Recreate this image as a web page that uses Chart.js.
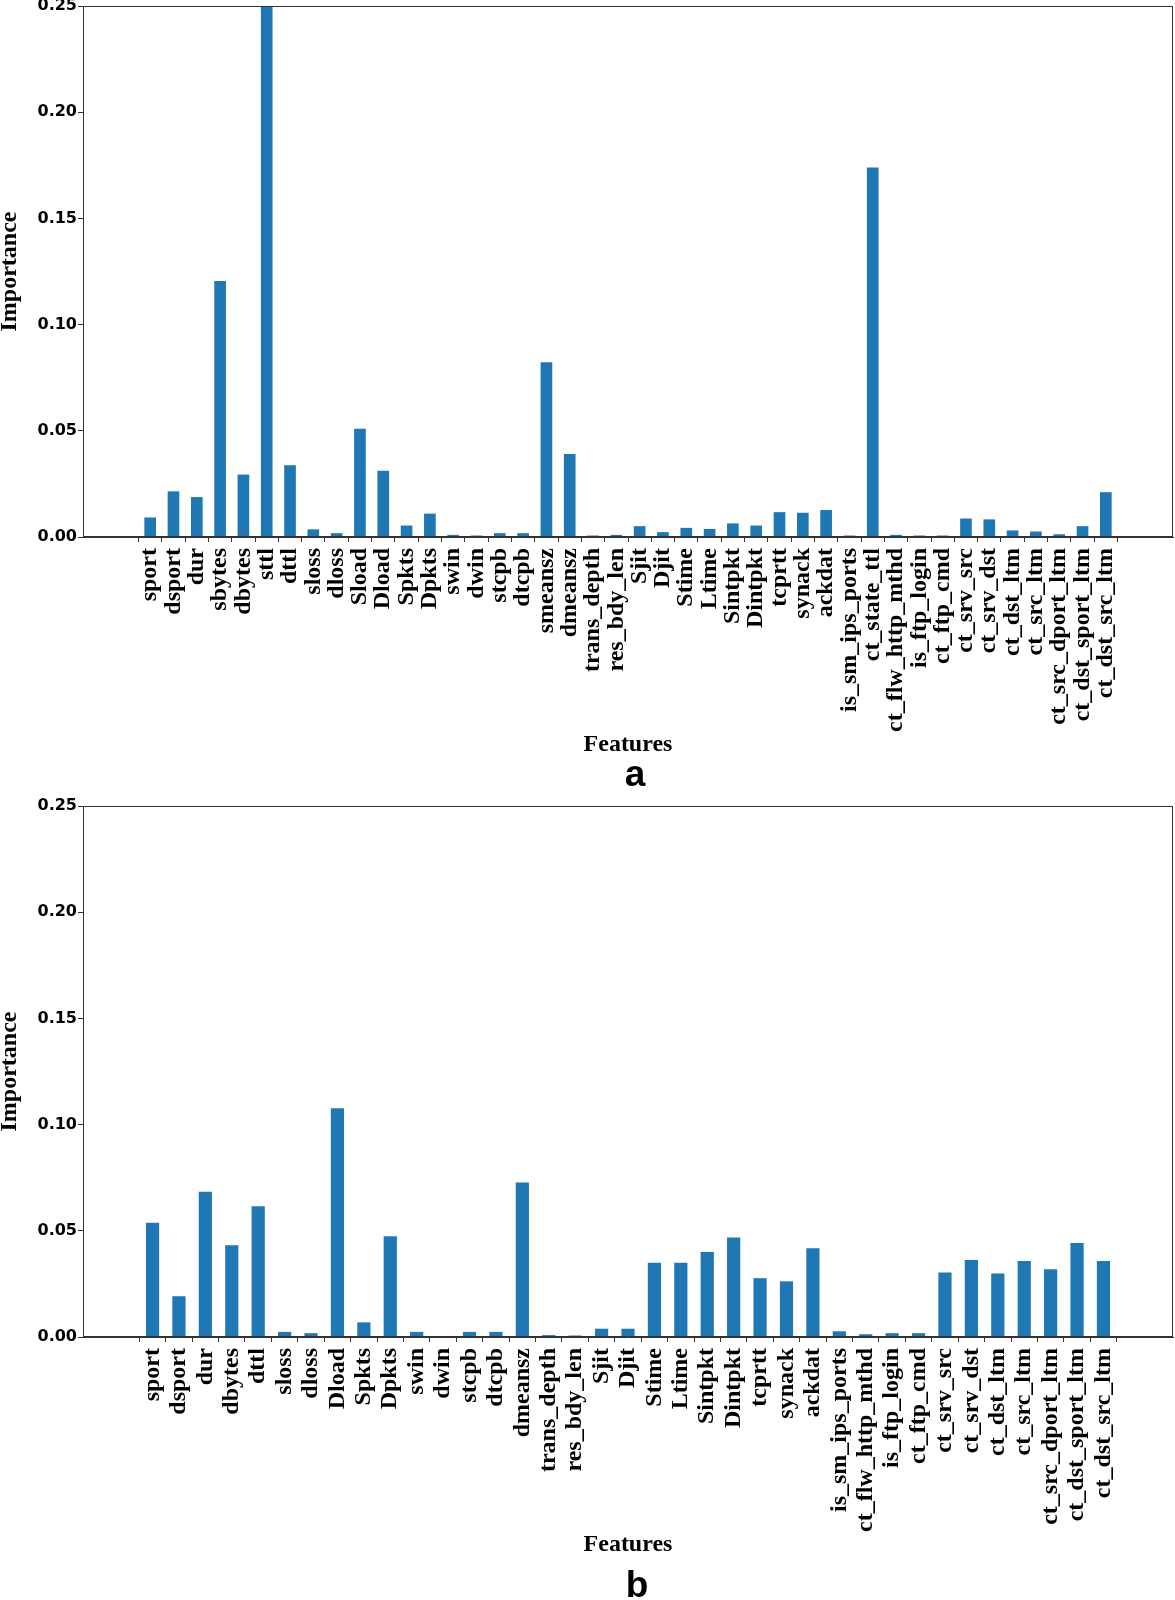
<!DOCTYPE html>
<html>
<head>
<meta charset="utf-8">
<script src="https://cdn.jsdelivr.net/npm/chart.js@4.4.0/dist/chart.umd.min.js"></script>
<style>
html, body { margin: 0; padding: 0; background: #fff; width: 1175px; height: 1600px; overflow: hidden; }
.wrap { position: absolute; left: 0; width: 1175px; }
.letter { position: absolute; font-family: "Liberation Sans", Arial, sans-serif; font-weight: bold; font-size: 37px; line-height: 37px; transform: translateX(-50%); color: #000; }
</style>
</head>
<body>
<div class="wrap" style="top:0px; height:800px"><canvas id="chartA"></canvas></div>
<div class="wrap" style="top:780px; height:820px"><canvas id="chartB"></canvas></div>
<div class="letter" style="left:635px; top:755px">a</div>
<div class="letter" style="left:637px; top:1566px">b</div>
<script>
// ---- data ----
const featuresA = ["sport","dsport","dur","sbytes","dbytes","sttl","dttl","sloss","dloss","Sload","Dload","Spkts","Dpkts","swin","dwin","stcpb","dtcpb","smeansz","dmeansz","trans_depth","res_bdy_len","Sjit","Djit","Stime","Ltime","Sintpkt","Dintpkt","tcprtt","synack","ackdat","is_sm_ips_ports","ct_state_ttl","ct_flw_http_mthd","is_ftp_login","ct_ftp_cmd","ct_srv_src","ct_srv_dst","ct_dst_ltm","ct_src_ltm","ct_src_dport_ltm","ct_dst_sport_ltm","ct_dst_src_ltm"];
const importanceA = [0.0092,0.0215,0.0188,0.1205,0.0294,0.25,0.0338,0.0036,0.0018,0.051,0.0312,0.0054,0.011,0.001,0.0007,0.0018,0.0018,0.0823,0.0391,0.0007,0.001,0.0051,0.0023,0.0043,0.0038,0.0064,0.0054,0.0117,0.0114,0.0127,0.0007,0.174,0.001,0.0007,0.0007,0.0087,0.0083,0.0031,0.0026,0.0013,0.0051,0.0211];

const featuresB = ["sport","dsport","dur","dbytes","dttl","sloss","dloss","Dload","Spkts","Dpkts","swin","dwin","stcpb","dtcpb","dmeansz","trans_depth","res_bdy_len","Sjit","Djit","Stime","Ltime","Sintpkt","Dintpkt","tcprtt","synack","ackdat","is_sm_ips_ports","ct_flw_http_mthd","is_ftp_login","ct_ftp_cmd","ct_srv_src","ct_srv_dst","ct_dst_ltm","ct_src_ltm","ct_src_dport_ltm","ct_dst_sport_ltm","ct_dst_src_ltm"];
const importanceB = [0.0538,0.0192,0.0684,0.0432,0.0615,0.0024,0.0018,0.1077,0.0069,0.0474,0.0024,0,0.0024,0.0024,0.0727,0.0009,0.0007,0.0039,0.0039,0.0349,0.0349,0.04,0.0469,0.0277,0.0262,0.0418,0.0027,0.0013,0.0018,0.0018,0.0304,0.0363,0.0299,0.0358,0.0319,0.0442,0.0358];

const yTicks = [0, 0.05, 0.10, 0.15, 0.20, 0.25];
const xTitle = "Features";
const yTitle = "Importance";

// ---- drawing ----
const framePlugin = {
  id: 'frame',
  afterDatasetsDraw(chart) {
    const { ctx, chartArea: a } = chart;
    ctx.save();
    ctx.strokeStyle = '#333';
    ctx.lineWidth = 1;
    ctx.strokeRect(Math.round(a.left) + 0.5, Math.round(a.top) + 0.5,
                   Math.round(a.right - a.left) - 1, Math.round(a.bottom - a.top) - 1);
    ctx.restore();
  }
};

function makeChart(id, labels, values, padTop) {
  const n = labels.length;
  const range = (n - 1 + 0.25) - (-0.25);
  const margin = 0.05 * range;
  return new Chart(document.getElementById(id), {
    type: 'bar',
    data: {
      datasets: [{
        data: values.map((v, i) => ({ x: i, y: v })),
        backgroundColor: '#1f77b4',
        borderWidth: 0,
        barPercentage: 0.5,
        categoryPercentage: 1.0
      }]
    },
    options: {
      responsive: true,
      maintainAspectRatio: false,
      animation: false,
      layout: { padding: { top: padTop, right: 2, bottom: 41, left: 0 } },
      plugins: { legend: { display: false }, tooltip: { enabled: false } },
      scales: {
        x: {
          type: 'linear',
          bounds: 'data',
          min: -0.25 - margin,
          max: n - 0.75 + margin,
          afterBuildTicks(s) { s.ticks = labels.map((_, i) => ({ value: i })); },
          afterFit(s) { s.height = 222; s.paddingLeft = 0; s.paddingRight = 0; },
          ticks: {
            autoSkip: false,
            minRotation: 90,
            maxRotation: 90,
            padding: 6,
            color: '#000',
            font: { family: '"Liberation Serif", "Times New Roman", serif', weight: 'bold', size: 24 },
            callback: (v, i) => labels[i]
          },
          grid: { drawOnChartArea: false, drawTicks: true, tickLength: 5, color: '#333' },
          border: { display: true, color: '#333' },
          title: {
            display: true, text: xTitle, color: '#000', padding: 0,
            font: { family: '"Liberation Serif", "Times New Roman", serif', weight: 'bold', size: 24, lineHeight: 1.2 }
          }
        },
        y: {
          min: 0,
          max: 0.25,
          afterBuildTicks(s) { s.ticks = yTicks.map(v => ({ value: v })); },
          afterFit(s) { s.width = 83; s.paddingTop = 0; s.paddingBottom = 0; },
          ticks: {
            padding: 1,
            color: '#000',
            font: { family: '"DejaVu Sans", sans-serif', weight: 'bold', size: 16 },
            callback: v => Number(v).toFixed(2)
          },
          grid: { drawOnChartArea: false, drawTicks: true, tickLength: 5, color: '#333' },
          border: { display: true, color: '#333' },
          title: {
            display: true, text: yTitle, color: '#000', padding: 0,
            font: { family: '"Liberation Serif", "Times New Roman", serif', weight: 'bold', size: 24, lineHeight: 0.84 }
          }
        }
      }
    },
    plugins: [framePlugin]
  });
}

makeChart('chartA', featuresA, importanceA, 6);
makeChart('chartB', featuresB, importanceB, 26);
</script>
</body>
</html>
